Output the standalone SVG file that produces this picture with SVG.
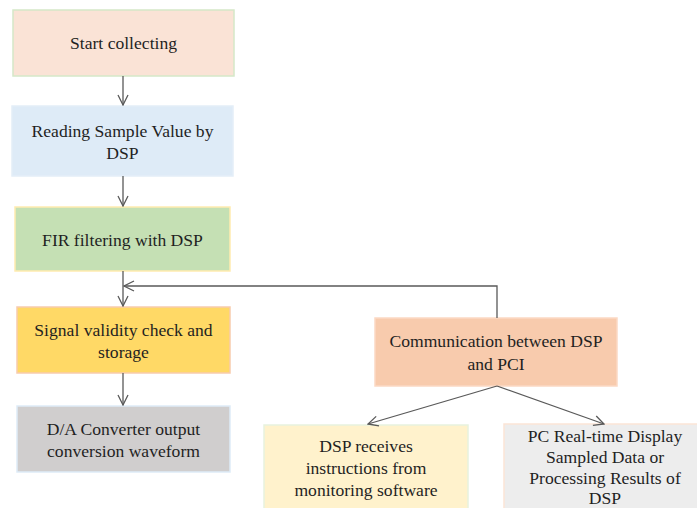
<svg xmlns="http://www.w3.org/2000/svg" width="697" height="508" viewBox="0 0 697 508">
  <defs>
    <marker id="arr" viewBox="0 0 12 12" refX="11" refY="6" markerWidth="12" markerHeight="12" markerUnits="userSpaceOnUse" orient="auto">
      <path d="M1,1 L11,6 L1,11" fill="none" stroke="#595959" stroke-width="1.3"/>
    </marker>
  </defs>
  <style>
    .box { stroke-width: 1.5; }
    .t { font-family: 'Liberation Serif', 'Times New Roman', serif; font-size: 17.6px; fill: #1f1f1f; text-anchor: middle; }
    .c { fill: none; stroke: #595959; stroke-width: 1.3; marker-end: url(#arr); }
  </style>
  <rect width="697" height="508" fill="#ffffff"/>

  <g id="start">
    <rect class="box" x="13" y="10" width="221" height="66" fill="#FAE3D6" stroke="#D5E8C8"/>
    <text class="t" x="123.5" y="49">Start collecting</text>
  </g>
  <g id="read">
    <rect class="box" x="12" y="106" width="221" height="70" fill="#DEEBF7" stroke="#E4EEF8"/>
    <text class="t" x="122.5" y="137">Reading Sample Value by</text>
    <text class="t" x="122.5" y="159">DSP</text>
  </g>
  <g id="fir">
    <rect class="box" x="15" y="207" width="215" height="64" fill="#C5E0B4" stroke="#FFECB0"/>
    <text class="t" x="122.5" y="246">FIR filtering with DSP</text>
  </g>
  <g id="check">
    <rect class="box" x="17" y="307" width="213" height="66" fill="#FFD966" stroke="#F8CBAD"/>
    <text class="t" x="123.5" y="336">Signal validity check and</text>
    <text class="t" x="123.5" y="358">storage</text>
  </g>
  <g id="dac">
    <rect class="box" x="17" y="406" width="213" height="66" fill="#D0CECE" stroke="#DEEBF7"/>
    <text class="t" x="123.5" y="435">D/A Converter output</text>
    <text class="t" x="123.5" y="457">conversion waveform</text>
  </g>
  <g id="comm">
    <rect class="box" x="375" y="318" width="242" height="68" fill="#F8CBAD" stroke="#FBD9C4"/>
    <text class="t" x="496" y="347">Communication between DSP</text>
    <text class="t" x="496" y="370">and PCI</text>
  </g>
  <g id="instr">
    <rect class="box" x="264" y="425" width="204" height="88" fill="#FFF2CC" stroke="#E8F2DE"/>
    <text class="t" x="366" y="452">DSP receives</text>
    <text class="t" x="366" y="474">instructions from</text>
    <text class="t" x="366" y="496">monitoring software</text>
  </g>
  <g id="display">
    <rect class="box" x="504" y="424" width="200" height="90" fill="#EDEDED" stroke="#FBE5D6"/>
    <text class="t" x="605" y="442">PC Real-time Display</text>
    <text class="t" x="605" y="463">Sampled Data or</text>
    <text class="t" x="605" y="484">Processing Results of</text>
    <text class="t" x="605" y="504">DSP</text>
  </g>

  <g id="connectors">
    <line class="c" x1="123" y1="76" x2="123" y2="105"/>
    <line class="c" x1="123" y1="176" x2="123" y2="206"/>
    <line class="c" x1="123" y1="271" x2="123" y2="306"/>
    <line class="c" x1="123" y1="373" x2="123" y2="405"/>
    <polyline class="c" points="497,318 497,286 124,286"/>
    <line class="c" x1="497" y1="386" x2="368" y2="424"/>
    <line class="c" x1="497" y1="386" x2="604" y2="424"/>
  </g>
</svg>
